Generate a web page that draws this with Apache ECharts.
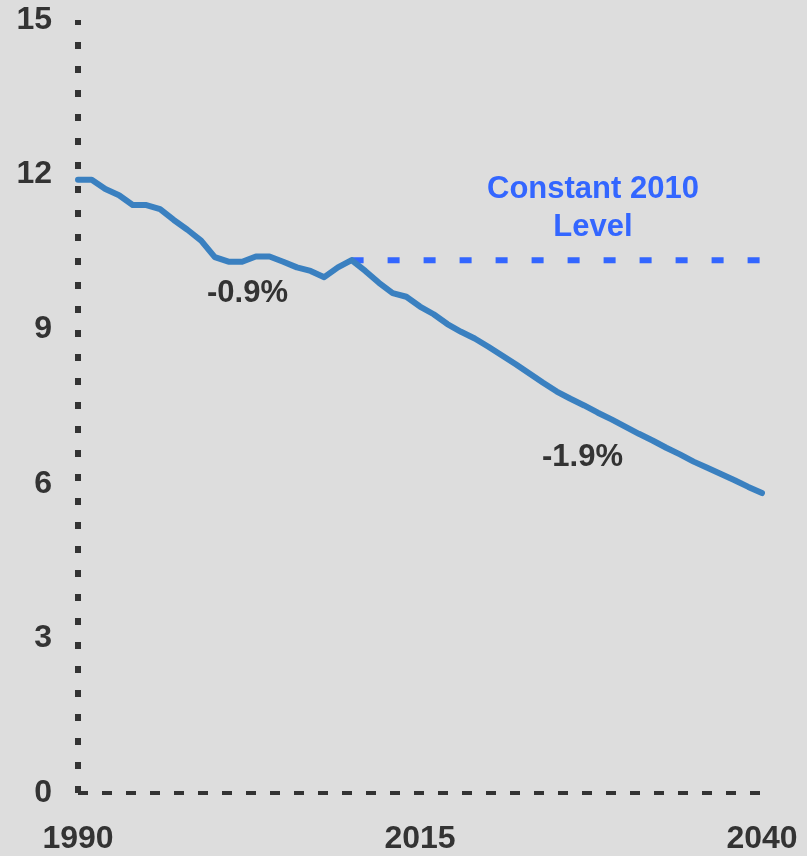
<!DOCTYPE html>
<html>
<head>
<meta charset="utf-8">
<script src="https://cdn.jsdelivr.net/npm/echarts@6/dist/echarts.min.js"></script>
<style>
  html, body { margin: 0; padding: 0; background: #dddddd; }
  #chart { width: 807px; height: 856px; }
</style>
</head>
<body>
<div id="chart"></div>
<script>
// years 1990..2040
const years = [];
for (let y = 1990; y <= 2040; y++) years.push(String(y));

// projected values
const intensity = [
  11.90, 11.90, 11.72, 11.60, 11.41, 11.41, 11.33, 11.12, 10.93, 10.72,
  10.40, 10.31, 10.31, 10.41, 10.41, 10.31, 10.20, 10.13, 10.01, 10.20,
  10.34, 10.13, 9.90, 9.70, 9.63, 9.44, 9.29, 9.10, 8.95, 8.82,
  8.66, 8.49, 8.32, 8.14, 7.96, 7.79, 7.65, 7.52, 7.38, 7.25,
  7.11, 6.97, 6.84, 6.70, 6.57, 6.43, 6.31, 6.19, 6.07, 5.94,
  5.82
];

// constant 2010 level, from 2010 on
const constLevel = years.map(y => (Number(y) >= 2010 ? 10.34 : null));

const yTicks = [0, 3, 6, 9, 12, 15];

const font = '"Liberation Sans", Arial, sans-serif';

const chart = echarts.init(document.getElementById("chart"));
chart.setOption({
  backgroundColor: "#dddddd",
  animation: false,
  grid: { left: 78, right: 45, top: 20, bottom: 63 },
  xAxis: {
    type: "category",
    data: years,
    boundaryGap: false,
    axisLine: { lineStyle: { color: "#333333", width: 4, type: [10, 14], cap: "butt" } },
    axisTick: { show: false },
    splitLine: { show: false },
    axisLabel: {
      interval: 24,
      margin: 30,
      color: "#333333",
      fontSize: 32,
      fontWeight: "bold",
      fontFamily: font
    }
  },
  yAxis: {
    type: "value",
    min: yTicks[0],
    max: yTicks[yTicks.length - 1],
    interval: 3,
    axisLine: { show: true, lineStyle: { color: "#333333", width: 6, type: [7, 17], cap: "butt" } },
    axisTick: { show: false },
    splitLine: { show: false },
    axisLabel: {
      margin: 26,
      padding: [5, 0, 0, 0],
      color: "#333333",
      fontSize: 32,
      fontWeight: "bold",
      fontFamily: font
    }
  },
  series: [
    {
      type: "line",
      data: constLevel,
      showSymbol: false,
      lineStyle: { color: "#3366ff", width: 6, type: [12, 24], cap: "butt" },
      z: 2
    },
    {
      type: "line",
      data: intensity,
      showSymbol: false,
      lineStyle: { color: "#3a80c0", width: 6, cap: "round", join: "round" },
      z: 3
    }
  ],
  graphic: [
    {
      type: "text",
      x: 593, y: 170,
      style: {
        text: "Constant 2010\nLevel",
        fill: "#3366ff",
        font: "bold 31px " + font,
        align: "center",
        lineHeight: 38
      }
    },
    {
      type: "text",
      x: 207, y: 278,
      style: { text: "-0.9%", fill: "#333333", font: "bold 31px " + font }
    },
    {
      type: "text",
      x: 542, y: 442,
      style: { text: "-1.9%", fill: "#333333", font: "bold 31px " + font }
    }
  ]
});
</script>
</body>
</html>
